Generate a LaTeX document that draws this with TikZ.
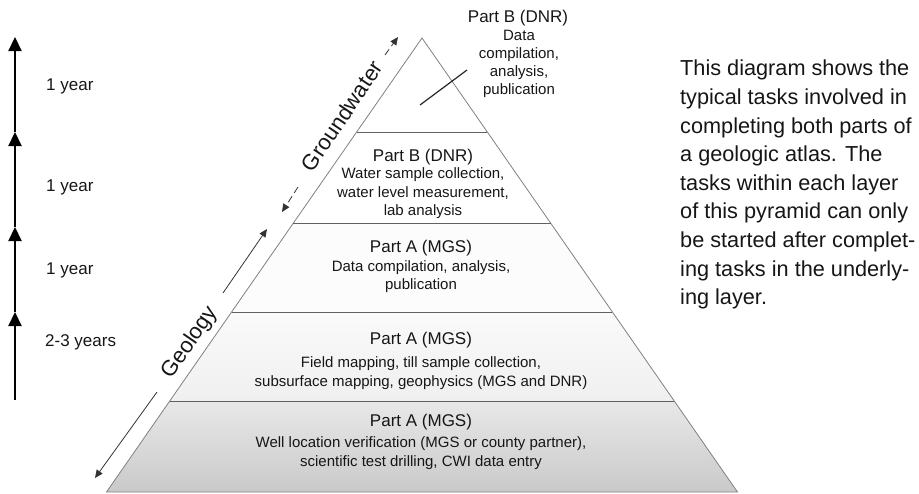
\documentclass[tikz,border=0pt]{standalone}
\usepackage{fontspec}
\setmainfont{Liberation Sans}
\usetikzlibrary{arrows.meta,calc}
\definecolor{ink}{HTML}{161616}
\begin{document}
\begin{tikzpicture}[x=1pt,y=-1pt,
  edge/.style={draw=black!50, line width=0.8pt},
  sep/.style={draw=black!62, line width=1pt},
  hdr/.style={font=\fontsize{17}{19}\selectfont, text=ink, inner sep=0pt},
  body/.style={font=\fontsize{15}{18.5}\selectfont, text=ink, align=center, inner sep=0pt},
  tarrow/.style={line width=2.2pt, draw=black, -{Triangle[length=14pt,width=13pt]}},
  yrlab/.style={font=\fontsize{17}{19}\selectfont, text=ink, anchor=west, inner sep=0pt},
  diag/.style={line width=0.8pt, draw=black!80, -{Triangle[length=8pt,width=7pt]}},
  diagdash/.style={diag, dash pattern=on 7pt off 4pt},
  side/.style={font=\fontsize{22}{24}\selectfont, text=ink, inner sep=0pt}
]
\useasboundingbox (0,0) rectangle (919,493);
% pyramid corners
\coordinate (A) at (422,38);
\coordinate (L1) at (356.7,132); \coordinate (R1) at (487.3,132);
\coordinate (L2) at (293.4,223); \coordinate (R2) at (550.6,223);
\coordinate (L3) at (231.6,312); \coordinate (R3) at (612.4,312);
\coordinate (L4) at (169.8,401); \coordinate (R4) at (674.2,401);
\coordinate (BL) at (106.5,492); \coordinate (BR) at (737.5,492);
% fills
\shade[top color=black!9, bottom color=black!21] (L4)--(R4)--(BR)--(BL)--cycle;
\shade[top color=black!2, bottom color=black!6] (L3)--(R3)--(R4)--(L4)--cycle;
\fill[black!1] (L2)--(R2)--(R3)--(L3)--cycle;
% outline and separators
\draw[edge] (BL)--(A)--(BR)--cycle;
\draw[sep] (L1)--(R1);
\draw[sep] (L2)--(R2);
\draw[sep] (L3)--(R3);
\draw[sep] (L4)--(R4);
% top callout
\node[hdr] (tbh) at (518,18) {Part B (DNR)};
\node[body, font=\fontsize{15}{18}\selectfont] (tbb) at (519,64) {Data\\compilation,\\analysis,\\publication};
\coordinate (cs) at (420,105); \coordinate (ce) at (467,70);
\draw[line width=1.2pt, black!85] (cs) -- (ce);
% layer texts
\node[hdr] (h2) at (423,157) {Part B (DNR)};
\node[body] (b2) at (423,193.5) {Water sample collection,\\water level measurement,\\lab analysis};
\node[hdr] (h3) at (421,248) {Part A (MGS)};
\node[body] (b3) at (421,276.5) {Data compilation, analysis,\\publication};
\node[hdr] (h4) at (421,340) {Part A (MGS)};
\node[body] (b4) at (421,373) {Field mapping, till sample collection,\\subsurface mapping, geophysics (MGS and DNR)};
\node[hdr] (h5) at (421,422) {Part A (MGS)};
\node[body] (b5) at (421,453) {Well location verification (MGS or county partner),\\scientific test drilling, CWI data entry};
% paragraph
\node[anchor=north west, inner sep=0pt, align=left, text=ink,
      font=\fontsize{21.7}{28.6}\selectfont] (para) at (680,60)
 {This diagram shows the\\typical tasks involved in\\completing both parts of\\a geologic atlas. The\\tasks within each layer\\of this pyramid can only\\be started after complet-\\ing tasks in the underly-\\ing layer.};
% time arrows
\coordinate (a0) at (15,400); \coordinate (a1) at (15,312);
\coordinate (a2) at (15,227); \coordinate (a3) at (15,132);
\coordinate (a4) at (15,37);
\draw[tarrow] (a0)--(a1);
\draw[tarrow] (a1)--(a2);
\draw[tarrow] (a2)--(a3);
\draw[tarrow] (a3)--(a4);
\node[yrlab] (y1) at (46,86) {1 year};
\node[yrlab] (y2) at (46,187) {1 year};
\node[yrlab] (y3) at (46,270) {1 year};
\node[yrlab] (y4) at (45,342) {2-3 years};
% geology arrow
\coordinate (g0) at (95,478); \coordinate (g1) at (157,392);
\coordinate (g2) at (223,293); \coordinate (g3) at (267,229);
\draw[diag] (g1)--(g0);
\draw[diag] (g2)--(g3);
\node[side, rotate=55.2] (geo) at (190,343) {Geology};
% groundwater arrow
\coordinate (w0) at (282,212); \coordinate (w1) at (298,187);
\coordinate (w2) at (385,55); \coordinate (w3) at (398,37);
\draw[diagdash] (w1)--(w0);
\draw[diagdash] (w2)--(w3);
\node[side, rotate=56] (gw) at (342,116) {Groundwater};
\end{tikzpicture}
\end{document}
